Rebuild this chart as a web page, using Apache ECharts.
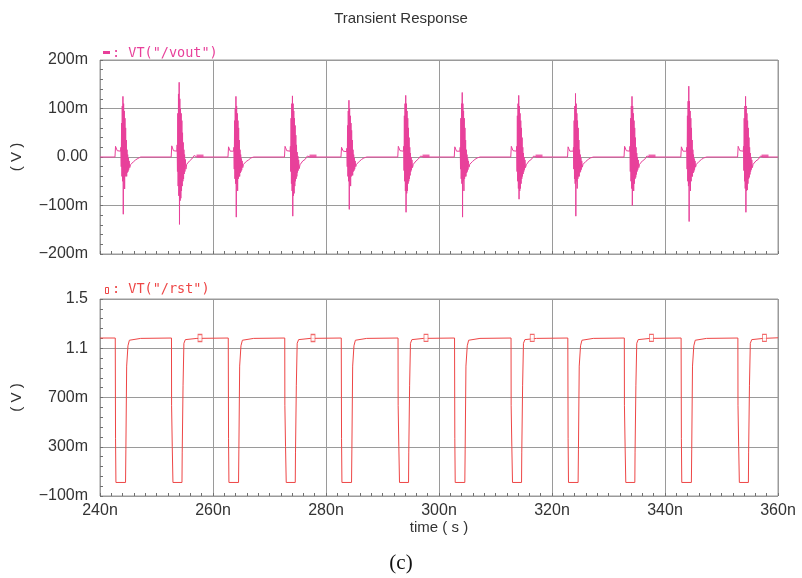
<!DOCTYPE html>
<html>
<head>
<meta charset="utf-8">
<script src="https://cdn.jsdelivr.net/npm/echarts@6/dist/echarts.min.js"></script>
<style>
  html, body { margin: 0; padding: 0; background: #ffffff; }
  #chart { width: 802px; height: 578px; }
</style>
</head>
<body>
<div id="chart"></div>
<script>
// ---- axes ----
const timeTicks = [240, 260, 280, 300, 320, 340, 360];          // ns
const timeLabels = ['240n', '260n', '280n', '300n', '320n', '340n', '360n'];
const voutTicks = [-0.2, -0.1, 0, 0.1, 0.2];                     // V
const voutLabels = ['\u2212200m', '\u2212100m', '0.00', '100m', '200m'];
const rstTicks = [-0.1, 0.3, 0.7, 1.1, 1.5];                      // V
const rstLabels = ['\u2212100m', '300m', '700m', '1.1', '1.5'];

// ---- reset pulses: falling-edge times (ns) ----
const pulseStart = [242.7, 252.65, 262.7, 272.7, 282.7, 292.75, 302.75, 312.75, 322.8, 332.8, 342.85, 352.9];

// rst level outside the pulses (V)
const rstIdle = [1.183, 1.185];

// odd pulses: clean fall, rise with a small knee
const rstPulseAOffset = [0, 0.05, 0.12, 1.82, 1.88, 2.02, 2.25, 2.5, 4.5];
const rstPulseAVolt   = [1.183, 0.365, 0.01, 0.01, 0.28, 0.955, 1.12, 1.165, 1.18];
// even pulses: fall with a step, cleaner rise
const rstPulseBOffset = [0, 0.02, 0.14, 0.26, 1.86, 1.9, 2.05, 2.2, 2.45, 4.5];
const rstPulseBVolt   = [1.183, 0.637, 0.3, 0.01, 0.01, 0.25, 0.8, 1.14, 1.17, 1.18];

// rst trace markers
const rstMarkTime = [257.7, 277.7, 297.7, 316.5, 337.6, 357.6];
const rstMarkVolt = [1.183, 1.183, 1.184, 1.184, 1.184, 1.184];

// ---- vout bursts: sample offsets after each rst fall (ns) ----
const burstOffset = [-0.05, 0.05, 0.2, 0.35, 0.95, 1.0, 1.06, 1.12, 1.18, 1.24, 1.3, 1.36, 1.42, 1.48, 1.54, 1.6, 1.66, 1.72, 1.78,
                     1.84, 1.9, 1.96, 2.02, 2.08, 2.14, 2.2, 2.26, 2.32, 2.38, 2.46, 2.56, 2.7, 2.9, 3.2, 3.6, 4.0, 4.5];

// vout values for each burst (V)
const voutBurst01 = [0, 0.022, 0.02, 0.013, 0.012, 0.02, -0.02, 0.07, -0.04, 0.105, -0.05, 0.125, -0.118, 0.11, -0.045, 0.095, -0.066, 0.08, -0.04, 0.06, -0.035, 0.035, -0.04, 0.015, -0.032, 0.005, -0.03, -0.002, -0.026, -0.008, -0.022, -0.016, -0.014, -0.01, -0.006, -0.003, 0];
const voutBurst02 = [0, 0.023, 0.02, 0.013, 0.012, 0.025, -0.03, 0.09, -0.06, 0.13, -0.08, 0.154, -0.139, 0.12, -0.09, 0.1, -0.085, 0.09, -0.07, 0.075, -0.06, 0.05, -0.05, 0.03, -0.045, 0.015, -0.035, 0.005, -0.03, -0.005, -0.025, -0.015, -0.012, -0.008, -0.004, 0.003, 0];
const voutBurst03 = [0, 0.021, 0.019, 0.012, 0.012, 0.02, -0.025, 0.075, -0.045, 0.1, -0.055, 0.125, -0.124, 0.105, -0.05, 0.09, -0.07, 0.075, -0.045, 0.06, -0.04, 0.035, -0.04, 0.015, -0.033, 0.005, -0.03, -0.003, -0.027, -0.008, -0.022, -0.015, -0.013, -0.009, -0.006, -0.002, 0];
const voutBurst04 = [0, 0.022, 0.02, 0.013, 0.012, 0.022, -0.03, 0.08, -0.055, 0.11, -0.07, 0.126, -0.122, 0.11, -0.08, 0.095, -0.075, 0.08, -0.06, 0.065, -0.05, 0.045, -0.045, 0.025, -0.04, 0.01, -0.032, 0.002, -0.028, -0.006, -0.024, -0.016, -0.012, -0.008, -0.005, 0.002, 0];
const voutBurst05 = [0, 0.02, 0.019, 0.012, 0.011, 0.018, -0.02, 0.065, -0.04, 0.095, -0.05, 0.117, -0.108, 0.1, -0.045, 0.085, -0.06, 0.07, -0.04, 0.055, -0.035, 0.035, -0.038, 0.015, -0.03, 0.005, -0.028, -0.002, -0.025, -0.008, -0.02, -0.015, -0.013, -0.009, -0.005, -0.002, 0];
const voutBurst06 = [0, 0.022, 0.02, 0.013, 0.012, 0.022, -0.028, 0.085, -0.05, 0.11, -0.07, 0.127, -0.114, 0.11, -0.075, 0.095, -0.07, 0.08, -0.055, 0.06, -0.05, 0.04, -0.045, 0.02, -0.038, 0.008, -0.03, 0.0, -0.027, -0.006, -0.022, -0.015, -0.012, -0.008, -0.004, 0.002, 0];
const voutBurst07 = [0, 0.021, 0.02, 0.012, 0.012, 0.02, -0.025, 0.08, -0.045, 0.11, -0.055, 0.133, -0.124, 0.11, -0.05, 0.095, -0.07, 0.08, -0.045, 0.06, -0.04, 0.035, -0.04, 0.015, -0.033, 0.005, -0.03, -0.003, -0.026, -0.008, -0.021, -0.015, -0.013, -0.009, -0.005, -0.002, 0];
const voutBurst08 = [0, 0.022, 0.02, 0.013, 0.012, 0.022, -0.03, 0.085, -0.05, 0.11, -0.065, 0.127, -0.087, 0.105, -0.07, 0.09, -0.065, 0.075, -0.055, 0.06, -0.045, 0.04, -0.04, 0.02, -0.035, 0.008, -0.03, 0.0, -0.026, -0.006, -0.022, -0.016, -0.012, -0.008, -0.005, 0.002, 0];
const voutBurst09 = [0, 0.021, 0.019, 0.012, 0.012, 0.02, -0.025, 0.075, -0.045, 0.105, -0.055, 0.131, -0.122, 0.11, -0.05, 0.09, -0.065, 0.075, -0.045, 0.06, -0.04, 0.035, -0.04, 0.015, -0.032, 0.005, -0.03, -0.002, -0.026, -0.008, -0.021, -0.015, -0.013, -0.009, -0.005, -0.002, 0];
const voutBurst10 = [0, 0.022, 0.02, 0.013, 0.012, 0.022, -0.03, 0.08, -0.05, 0.105, -0.065, 0.125, -0.1, 0.105, -0.07, 0.09, -0.07, 0.075, -0.055, 0.06, -0.045, 0.04, -0.042, 0.02, -0.036, 0.008, -0.03, 0.0, -0.026, -0.006, -0.022, -0.015, -0.012, -0.008, -0.005, 0.002, 0];
const voutBurst11 = [0, 0.021, 0.02, 0.012, 0.012, 0.02, -0.025, 0.085, -0.05, 0.115, -0.06, 0.146, -0.133, 0.115, -0.055, 0.095, -0.07, 0.08, -0.05, 0.06, -0.04, 0.035, -0.04, 0.015, -0.033, 0.005, -0.03, -0.003, -0.026, -0.008, -0.021, -0.015, -0.013, -0.009, -0.005, -0.002, 0];
const voutBurst12 = [0, 0.022, 0.02, 0.013, 0.012, 0.022, -0.028, 0.08, -0.05, 0.105, -0.065, 0.125, -0.114, 0.105, -0.07, 0.09, -0.068, 0.075, -0.055, 0.06, -0.045, 0.04, -0.042, 0.02, -0.036, 0.008, -0.03, 0.0, -0.026, -0.006, -0.022, -0.015, -0.012, -0.008, -0.005, 0.002, 0];

// vout trace markers
const voutMarkTime = [257.7, 277.7, 297.7, 317.7, 337.7, 357.7];
const voutMarkVolt = [0.002, 0.002, 0.002, 0.002, 0.002, 0.002];

// ---- build the series data ----
const voutBursts = [voutBurst01, voutBurst02, voutBurst03, voutBurst04, voutBurst05, voutBurst06,
                    voutBurst07, voutBurst08, voutBurst09, voutBurst10, voutBurst11, voutBurst12];
const tMin = timeTicks[0], tMax = timeTicks[timeTicks.length - 1];

const voutData = [[tMin, 0]];
pulseStart.forEach((t0, k) => {
  voutBursts[k].forEach((v, i) => voutData.push([+(t0 + burstOffset[i]).toFixed(3), v]));
});
voutData.push([tMax, 0]);

const rstData = [[tMin, rstIdle[0]]];
pulseStart.forEach((t0, k) => {
  const off = k % 2 === 0 ? rstPulseAOffset : rstPulseBOffset;
  const volt = k % 2 === 0 ? rstPulseAVolt : rstPulseBVolt;
  off.forEach((d, i) => rstData.push([+(t0 + d).toFixed(3), volt[i]]));
});
rstData.push([tMax, rstIdle[1]]);

const voutMarks = voutMarkTime.map((t, i) => [t, voutMarkVolt[i]]);
const rstMarks = rstMarkTime.map((t, i) => [t, rstMarkVolt[i]]);

// ---- styling ----
const VOUT_COLOR = '#e8409a';
const RST_COLOR = '#ee4646';
const GRID_COLOR = '#9a9a9a';
const TICK_COLOR = '#707070';
const LABEL_FONT = 'Liberation Sans';
const MONO_FONT = 'DejaVu Sans Mono';

function labelFor(ticks, labels) {
  return function (value) {
    let best = 0;
    ticks.forEach((t, i) => { if (Math.abs(t - value) < Math.abs(ticks[best] - value)) best = i; });
    return labels[best];
  };
}

function xAxisFor(gridIndex, showLabels) {
  return {
    type: 'value', gridIndex: gridIndex, position: 'bottom',
    min: tMin, max: tMax, interval: timeTicks[1] - timeTicks[0],
    axisLine: { show: false, onZero: false },
    axisTick: { show: true, inside: true, length: 3, lineStyle: { color: TICK_COLOR } },
    minorTick: { show: true, splitNumber: 10, length: 3, lineStyle: { color: TICK_COLOR } },
    splitLine: { show: true, lineStyle: { color: GRID_COLOR, width: 1 } },
    axisLabel: {
      show: showLabels, margin: 7, color: '#333', fontFamily: LABEL_FONT, fontSize: 16,
      formatter: labelFor(timeTicks, timeLabels)
    },
    name: showLabels ? 'time ( s )' : '',
    nameLocation: 'middle', nameGap: 16,
    nameTextStyle: { color: '#333', fontFamily: LABEL_FONT, fontSize: 15 }
  };
}

function yAxisFor(gridIndex, ticks, labels, minorSplit) {
  return {
    type: 'value', gridIndex: gridIndex, position: 'left',
    min: ticks[0], max: ticks[ticks.length - 1], interval: +(ticks[1] - ticks[0]).toFixed(6),
    axisLine: { show: false, onZero: false },
    axisTick: { show: true, inside: true, length: 3, lineStyle: { color: TICK_COLOR } },
    minorTick: { show: true, splitNumber: minorSplit, length: 3, lineStyle: { color: TICK_COLOR } },
    splitLine: { show: true, lineStyle: { color: GRID_COLOR, width: 1 } },
    axisLabel: {
      margin: 12, color: '#333', fontFamily: LABEL_FONT, fontSize: 16,
      formatter: labelFor(ticks, labels)
    },
    name: '( V )', nameLocation: 'middle', nameGap: 76,
    nameTextStyle: { color: '#333', fontFamily: LABEL_FONT, fontSize: 15 }
  };
}

const chart = echarts.init(document.getElementById('chart'), null, { renderer: 'canvas' });

chart.setOption({
  animation: false,
  backgroundColor: '#ffffff',
  title: {
    text: 'Transient Response', left: 'center', top: 6,
    textStyle: { fontFamily: LABEL_FONT, fontWeight: 'normal', fontSize: 15, color: '#333' }
  },
  grid: [
    { left: 100, top: 60, width: 678, height: 194, show: true, borderColor: GRID_COLOR, borderWidth: 1, backgroundColor: 'transparent' },
    { left: 100, top: 299, width: 678, height: 197, show: true, borderColor: GRID_COLOR, borderWidth: 1, backgroundColor: 'transparent' }
  ],
  xAxis: [xAxisFor(0, false), xAxisFor(1, true)],
  yAxis: [
    yAxisFor(0, voutTicks, voutLabels, 5),
    yAxisFor(1, rstTicks, rstLabels, 5)
  ],
  series: [
    {
      name: 'VT("/vout")', type: 'line', xAxisIndex: 0, yAxisIndex: 0,
      data: voutData, symbol: 'none', sampling: null, silent: true,
      lineStyle: { color: VOUT_COLOR, width: 1 }, z: 3
    },
    {
      type: 'scatter', xAxisIndex: 0, yAxisIndex: 0, data: voutMarks,
      symbol: 'rect', symbolSize: [7, 3], silent: true,
      itemStyle: { color: VOUT_COLOR }, z: 4
    },
    {
      name: 'VT("/rst")', type: 'line', xAxisIndex: 1, yAxisIndex: 1,
      data: rstData, symbol: 'none', silent: true,
      lineStyle: { color: RST_COLOR, width: 1 }, z: 3
    },
    {
      type: 'scatter', xAxisIndex: 1, yAxisIndex: 1, data: rstMarks,
      symbol: 'rect', symbolSize: [4, 7], silent: true,
      itemStyle: { color: '#ffffff', borderColor: RST_COLOR, borderWidth: 1 }, z: 4
    }
  ],
  graphic: [
    // trace legends above each panel
    { type: 'rect', left: 103, top: 51, shape: { width: 7, height: 3 }, style: { fill: VOUT_COLOR } },
    { type: 'text', left: 112, top: 46, style: { text: ': VT("/vout")', fill: VOUT_COLOR, font: '13.5px "' + MONO_FONT + '"' } },
    { type: 'rect', left: 105, top: 287, shape: { width: 3, height: 6 }, style: { fill: '#ffffff', stroke: RST_COLOR, lineWidth: 1 } },
    { type: 'text', left: 112, top: 282, style: { text: ': VT("/rst")', fill: RST_COLOR, font: '13.5px "' + MONO_FONT + '"' } },
    // panel caption
    { type: 'text', left: 'center', top: 553, style: { text: '(c)', fill: '#111', font: '21px "Liberation Serif"' } }
  ]
});
</script>
</body>
</html>
